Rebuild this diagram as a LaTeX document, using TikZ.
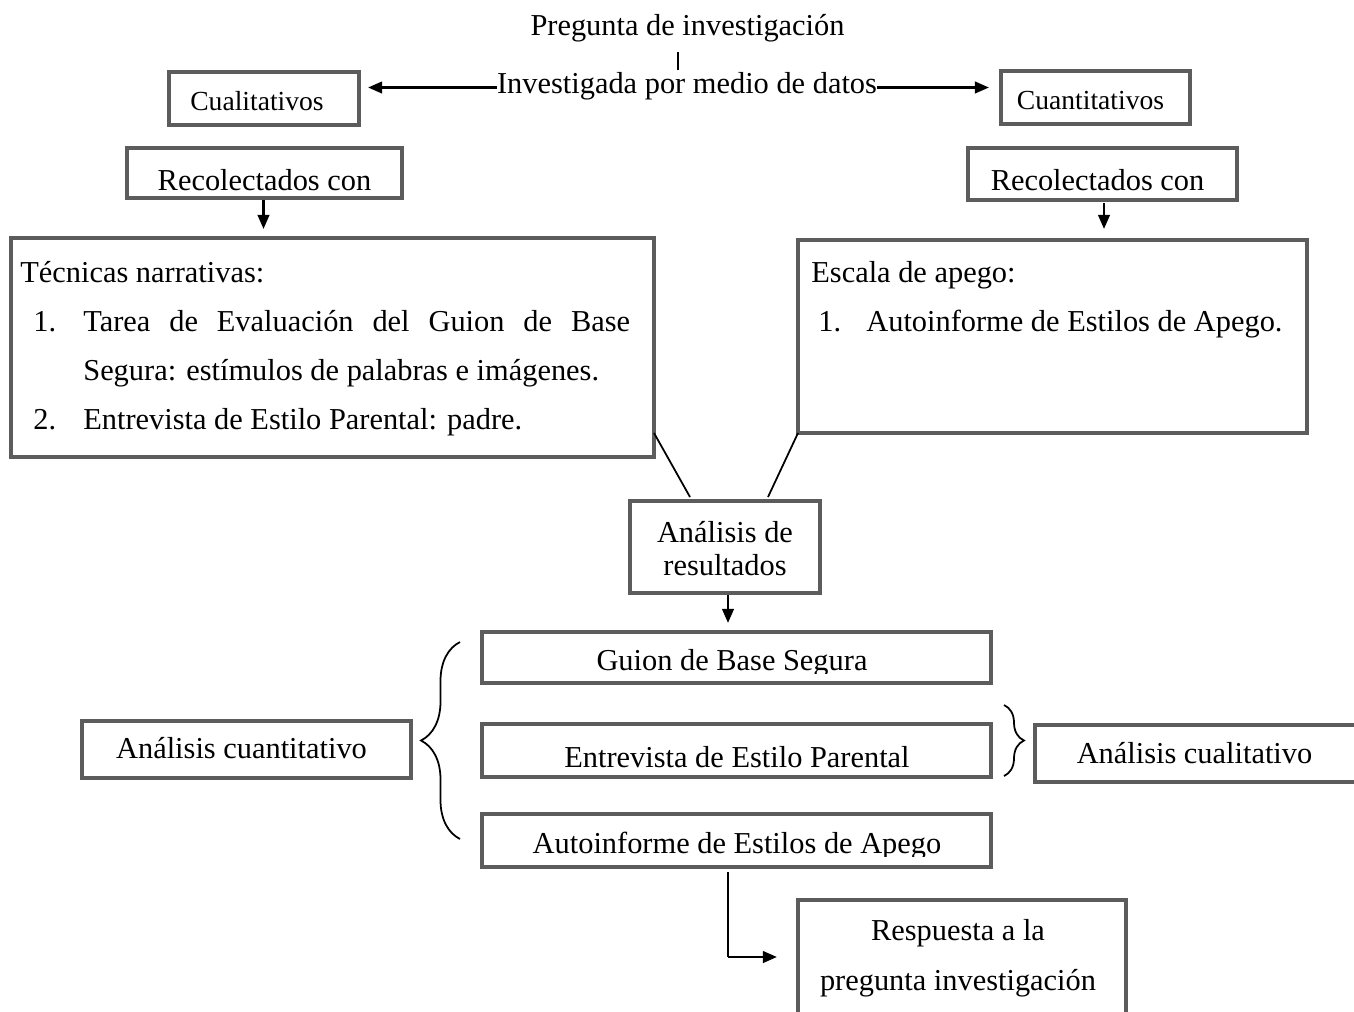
\documentclass[tikz,border=0pt]{standalone}
\usepackage{fontspec}
\setmainfont{Liberation Serif}
\usetikzlibrary{calc,arrows.meta,decorations.pathreplacing}
\definecolor{bordegris}{RGB}{92,92,92}
\newcommand{\fgrande}{\fontsize{17.3}{20}\selectfont}
\newcommand{\fchica}{\fontsize{15.7}{18}\selectfont}
\tikzset{
	caja/.style 2 args={draw=bordegris, line width=2.2pt, inner sep=0pt, outer sep=0pt,
		anchor=north west, minimum width=#1*0.02cm, minimum height=#2*0.02cm},
	lbl/.style={font=\fgrande, inner sep=0pt, anchor=base},
	lblizq/.style={font=\fgrande, inner sep=0pt, anchor=base west},
	flecha/.style={-{Triangle[length=8pt,width=6.5pt]}, line width=1.5pt},
	linea/.style={line width=1pt},
	llave/.style={line width=1pt, decorate, decoration={brace, amplitude=#1}}
}
\begin{document}
\begin{tikzpicture}[x=0.02cm, y=-0.02cm]
	\fill[white] (0,0) rectangle (1354,1011);
	\useasboundingbox (0,0) rectangle (1354,1011);

	% cajas
	\node[caja={190}{53}] (cual) at (169,72) {};
	\node[caja={189}{53}] (cuan) at (1001,71) {};
	\node[caja={275}{50}] (recL) at (127,148) {};
	\node[caja={269}{52}] (recR) at (968,148) {};
	\node[caja={643}{219}] (tec) at (11,238) {};
	\node[caja={509}{193}] (esc) at (798,240) {};
	\node[caja={190}{92}] (anres) at (630,501) {};
	\node[caja={509}{51}] (guion) at (482,632) {};
	\node[caja={509}{53}] (entrev) at (482,724) {};
	\node[caja={509}{53}] (autoinf) at (482,814) {};
	\node[caja={329}{57}] (ancuan) at (82,721) {};
	\node[caja={360}{57}] (ancual) at (1035,725) {};
	\node[caja={328}{150}] (resp) at (798,900) {};

	% textos
	\node[lbl] (preg) at (687.5,35) {Pregunta de investigación};
	\node[lbl] (invest) at (687,93) {Investigada por medio de datos};
	\node[lbl,font=\fchica] (cualT) at (257,110) {Cualitativos};
	\node[lbl,font=\fchica] (cuanT) at (1090.5,109) {Cuantitativos};
	\node[lbl] (recLT) at (264.5,190) {Recolectados con};
	\node[lbl] (recRT) at (1097.5,190) {Recolectados con};

	\node[lblizq] (tecA) at (20,282) {Técnicas narrativas:};
	\node[lblizq] (tecBn) at (33,331) {1.};
	\node[lblizq] (tecB) at (83,331) {\makebox[311.2pt][s]{Tarea de Evaluación del Guion de Base}};
	\node[lblizq] (tecC) at (83,380) {Segura: estímulos de palabras e imágenes.};
	\node[lblizq] (tecDn) at (33,429) {2.};
	\node[lblizq] (tecD) at (83,429) {Entrevista de Estilo Parental: padre.};

	\node[lblizq] (escA) at (811,282) {Escala de apego:};
	\node[lblizq] (escBn) at (818,331) {1.};
	\node[lblizq] (escB) at (866,331) {Autoinforme de Estilos de Apego.};

	\node[lbl] (anresA) at (725,542) {Análisis de};
	\node[lbl] (anresB) at (725,575) {resultados};

	\begin{scope}
		\clip (guion.north west) rectangle ($(guion.south east)+(0,-10)$);
		\node[lbl] (guionT) at (732,670) {Guion de Base Segura};
	\end{scope}
	\node[lbl] (entrevT) at (737,767) {Entrevista de Estilo Parental};
	\begin{scope}
		\clip (autoinf.north west) rectangle ($(autoinf.south east)+(0,-11)$);
		\node[lbl] (autoinfT) at (737,853) {Autoinforme de Estilos de Apego};
	\end{scope}
	\node[lbl] (ancuanT) at (241.5,758) {Análisis cuantitativo};
	\node[lbl] (ancualT) at (1194.5,763) {Análisis cualitativo};
	\node[lbl] (respA) at (958,940) {Respuesta a la};
	\node[lbl] (respB) at (958,990) {pregunta investigación};

	% conectores
	\draw[linea] ($(preg.base)+(-9.5,17)$) -- ($(invest.base)+(-9,-23)$);
	\draw[flecha] ($(invest.base west)+(0,-5.5)$) -- ($(cual.east |- invest.base)+(9,-5.5)$);
	\draw[flecha] ($(invest.base east)+(0,-5.5)$) -- ($(cuan.west |- invest.base)+(-12,-5.5)$);
	\draw[flecha] ($(recL.south)+(-1,2)$) -- ($(recL.south |- tec.north)+(-1,-9)$);
	\draw[flecha] ($(recR.south)+(1.5,3)$) -- ($(recR.south |- tec.north)+(1.5,-9)$);
	\draw[linea] (tec.east |- esc.south) -- ($(anres.north)+(-35,-4)$);
	\draw[linea] (esc.south west) -- ($(anres.north)+(43,-4)$);
	\draw[flecha] ($(anres.south)+(3,2)$) -- ($(anres.south |- guion.north)+(3,-9)$);
	\draw[llave=0.78cm] ($(autoinf.south west)+(-22,-28)$) -- ($(guion.north west)+(-22,10)$);
	\draw[llave=0.4cm] ($(entrev.north east)+(13,-19)$) -- ($(entrev.south east)+(13,-1)$);
	\coordinate (esquina) at ($(autoinf.south)+(-8.5,90)$);
	\draw[linea] ($(autoinf.south)+(-8.5,5)$) -- (esquina);
	\draw[flecha] (esquina) -- ($(resp.west |- esquina)+(-21,0)$);
\end{tikzpicture}
\end{document}
